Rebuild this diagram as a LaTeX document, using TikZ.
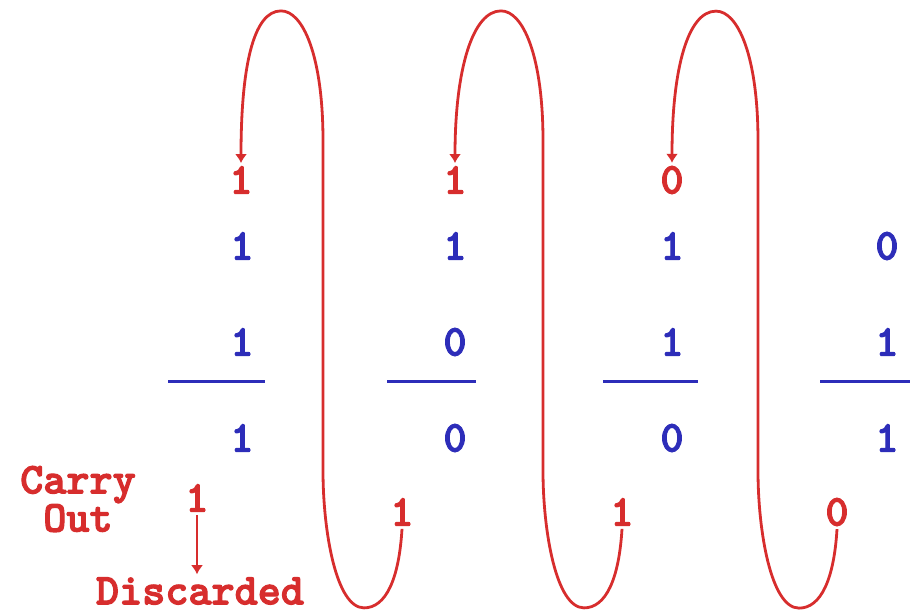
\documentclass[tikz,border=0pt]{standalone}
\usetikzlibrary{arrows.meta}
\definecolor{carryred}{RGB}{215,45,45}
\definecolor{bitblue}{RGB}{45,45,185}
\font\bitfnt="[lmmonolt10-bold.otf]:embolden=2.5" at 44pt
\newcommand\bitface{\bitfnt\baselineskip=30pt\relax}
\begin{document}
\begin{tikzpicture}[x=1pt,y=-1pt,
  bit/.style={font=\bitface, text=bitblue, inner sep=3pt},
  cbit/.style={bit, text=carryred},
  carryarc/.style={draw=carryred, line width=2.8pt, -{Latex[length=9pt,width=12pt]}},
  sumline/.style={draw=bitblue, line width=3pt}]
\useasboundingbox (0,0) rectangle (910,613);
% carry in
\node[cbit] (cin1) at (241,180) {1};
\node[cbit] (cin2) at (455,180) {1};
\node[cbit] (cin3) at (672,180) {0};
% operands
\node[bit] (a1) at (242,246) {1};
\node[bit] (a2) at (455,246) {1};
\node[bit] (a3) at (672,246) {1};
\node[bit] (a4) at (887,246) {0};
\node[bit] (b1) at (242,342) {1};
\node[bit] (b2) at (455,342) {0};
\node[bit] (b3) at (672,342) {1};
\node[bit] (b4) at (887,342) {1};
\draw[sumline] (168,381) -- (265,381);
\draw[sumline] (387,381) -- (476,381);
\draw[sumline] (603,381) -- (698,381);
\draw[sumline] (820,381) -- (910,381);
% sums
\node[bit] (s1) at (242,438) {1};
\node[bit] (s2) at (455,438) {0};
\node[bit] (s3) at (672,438) {0};
\node[bit] (s4) at (887,438) {1};
% carry out
\node[cbit, align=center, inner sep=0pt] (colabel) at (78,499) {Carry\\Out};
\node[cbit] (cout1) at (197,498) {1};
\node[cbit] (cout2) at (402,512) {1};
\node[cbit] (cout3) at (622,512) {1};
\node[cbit] (cout4) at (837,512) {0};
\node[cbit] (disc) at (200,591) {Discarded};
\draw[carryarc] (cout1.south) -- (cout1.south |- disc.north);
\draw[carryarc] (cout2.south) .. controls +(-3,50) and +(22,0) .. ++(-38,79)
  .. controls +(-28,0) and +(0,60) .. ++(-41,-137) -- ++(0,-330)
  .. controls +(0,-85) and +(22,0) .. ++(-42,-130)
  .. controls +(-28,0) and +(0,-95) .. (cin1.north);
\draw[carryarc] (cout3.south) .. controls +(-3,50) and +(22,0) .. ++(-38,79)
  .. controls +(-28,0) and +(0,60) .. ++(-41,-137) -- ++(0,-330)
  .. controls +(0,-85) and +(22,0) .. ++(-42,-130)
  .. controls +(-28,0) and +(0,-95) .. (cin2.north);
\draw[carryarc] (cout4.south) .. controls +(-3,50) and +(22,0) .. ++(-38,79)
  .. controls +(-28,0) and +(0,60) .. ++(-41,-137) -- ++(0,-330)
  .. controls +(0,-85) and +(22,0) .. ++(-42,-130)
  .. controls +(-28,0) and +(0,-95) .. (cin3.north);
\end{tikzpicture}
\end{document}
